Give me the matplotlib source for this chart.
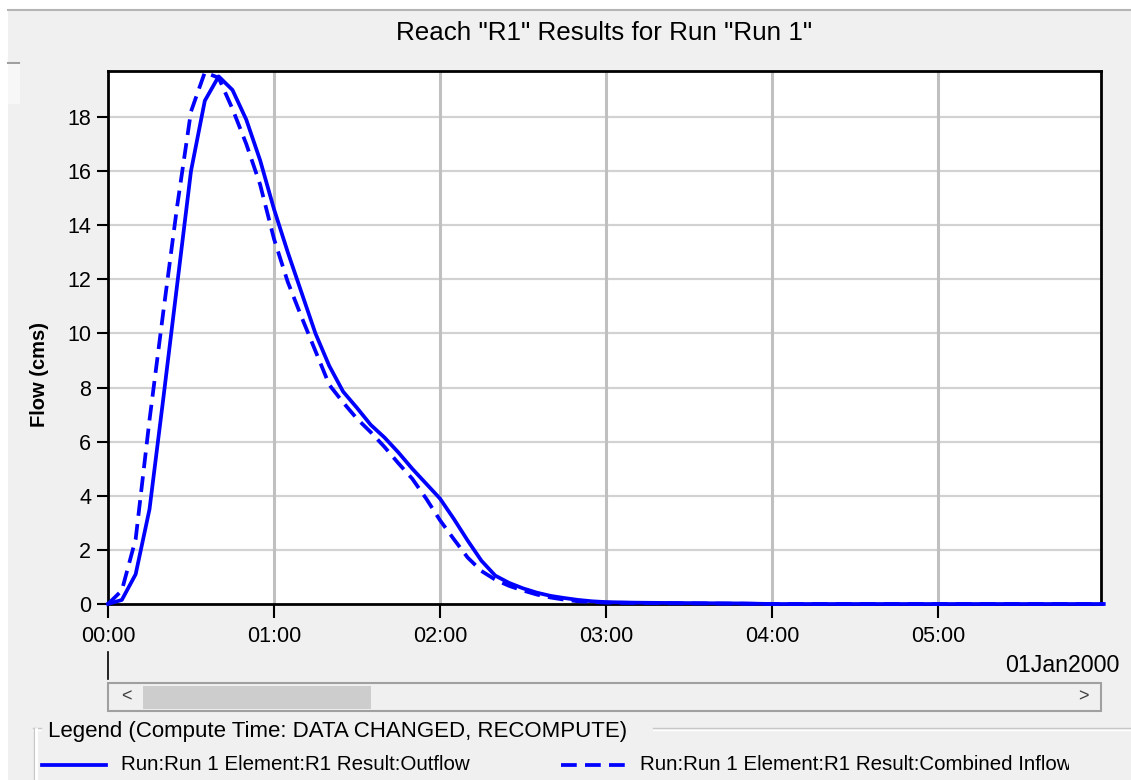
import matplotlib
matplotlib.use('Agg')
import matplotlib.pyplot as plt
from matplotlib.patches import Rectangle
from matplotlib.lines import Line2D

plt.rcParams['font.family'] = ['Liberation Sans', 'DejaVu Sans']

# tijd in minuten vanaf 01Jan2000 00:00
minuten = [0, 5, 10, 15, 20, 25, 30, 35, 40, 45, 50, 55, 60, 65, 70, 75, 80, 85, 90, 95,
           100, 105, 110, 115, 120, 125, 130, 135, 140, 145, 150, 155, 160, 165, 170, 175,
           180, 190, 200, 215, 230, 240, 360]
outflow = [0, 0.15, 1.1, 3.5, 7.6, 11.8, 16.0, 18.6, 19.5, 19.0, 17.9, 16.4, 14.6, 13.0,
           11.5, 10.0, 8.8, 7.85, 7.25, 6.62, 6.15, 5.6, 5.0, 4.45, 3.9, 3.15, 2.35, 1.6,
           1.05, 0.78, 0.58, 0.42, 0.3, 0.22, 0.15, 0.1, 0.07, 0.05, 0.04, 0.03, 0.02, 0, 0]
inflow = [0, 0.5, 2.4, 6.8, 10.8, 14.7, 18.2, 19.65, 19.45, 18.3, 17.0, 15.5, 13.5, 11.9,
          10.6, 9.35, 8.1, 7.45, 6.85, 6.35, 5.8, 5.2, 4.63, 3.9, 3.1, 2.4, 1.72, 1.22,
          0.9, 0.67, 0.5, 0.35, 0.24, 0.16, 0.1, 0.08, 0.05, 0.04, 0.03, 0.02, 0.01, 0, 0]

uurTicks = [0, 60, 120, 180, 240, 300]
uurLabels = ['00:00', '01:00', '02:00', '03:00', '04:00', '05:00']
flowTicks = [0, 2, 4, 6, 8, 10, 12, 14, 16, 18]

titel = 'Reach "R1" Results for Run "Run 1"'
legendTitel = 'Legend (Compute Time: DATA CHANGED, RECOMPUTE)'
labelOut = 'Run:Run 1 Element:R1 Result:Outflow'
labelIn = 'Run:Run 1 Element:R1 Result:Combined Inflow'

W, H = 1131, 780
def fx(px):
  return px / W
def fy(py):
  return 1 - py / H

blauw = '#0000ff'
streep = (4.2, 2.2)

fig = plt.figure(figsize=(W / 100, H / 100), dpi=100, facecolor='white')

# grijs paneel
fig.patches.append(Rectangle((fx(8), 0), 1 - fx(8), fy(10), transform=fig.transFigure,
                             facecolor='#f0f0f0', edgecolor='none', zorder=-2))
fig.lines.append(Line2D([fx(8), 1], [fy(10), fy(10)], transform=fig.transFigure,
                        color='#b4b4b4', lw=1.5, zorder=-1))
fig.patches.append(Rectangle((fx(8), fy(104)), fx(12), fy(64) - fy(104), transform=fig.transFigure,
                             facecolor='#f7f7f7', edgecolor='none', zorder=-1))
fig.lines.append(Line2D([fx(8), fx(19)], [fy(63), fy(63)], transform=fig.transFigure,
                        color='#a0a0a0', lw=1.5, zorder=-1))

fig.text(fx(604), fy(33), titel, ha='center', va='center', fontsize=18.7)

ax = fig.add_axes([fx(108), fy(604), fx(1101) - fx(108), fy(71) - fy(604)])
ax.set_zorder(2)
ax.set_facecolor('white')
ax.plot(minuten, outflow, color=blauw, lw=2.7, clip_on=False, zorder=5)
ax.plot(minuten, inflow, color=blauw, lw=2.7, dashes=streep, clip_on=False, zorder=5)
ax.set_xlim(0, 359)
ax.set_ylim(0, 19.7)
ax.set_xticks(uurTicks)
ax.set_xticklabels(uurLabels)
ax.set_yticks(flowTicks)
ax.tick_params(axis='both', direction='out', length=8, width=1.5, labelsize=15.5, pad=4)
ax.tick_params(axis='x', length=10, pad=6)
ax.tick_params(top=False, right=False)
for y in flowTicks[1:]:
  ax.axhline(y, color='#d2d2d2', lw=1.6, zorder=1)
for x in uurTicks[1:]:
  ax.axvline(x, color='#c0c0c0', lw=2.2, zorder=1)
for s in ax.spines.values():
  s.set_linewidth(2)
  s.set_zorder(4)
ax.set_ylabel('Flow (cms)', fontsize=14.5, fontweight='bold')
ax.yaxis.set_label_coords(-0.0594, 0.4315)

# tijdas-onderschrift en schuifbalk
fig.lines.append(Line2D([fx(108), fx(108)], [fy(652), fy(679)], transform=fig.transFigure,
                        color='black', lw=1.2))
fig.text(fx(1119), fy(665), '01Jan2000', ha='right', va='center', fontsize=16.7)
fig.patches.append(Rectangle((fx(108), fy(711)), fx(1101) - fx(108), fy(683) - fy(711),
                             transform=fig.transFigure, facecolor='#f0f0f0',
                             edgecolor='#a0a0a0', lw=1.5))
fig.patches.append(Rectangle((fx(143), fy(709)), fx(371) - fx(143), fy(686) - fy(709),
                             transform=fig.transFigure, facecolor='#cdcdcd', edgecolor='none'))
fig.text(fx(126), fy(697), '<', ha='center', va='center', fontsize=13, color='#404040')
fig.text(fx(1083), fy(697), '>', ha='center', va='center', fontsize=13, color='#404040')

# legenda
for xs in ([fx(33), fx(41)], [fx(653), 1]):
  fig.lines.append(Line2D(xs, [fy(728), fy(728)], transform=fig.transFigure, color='#c8c8c8', lw=1))
  fig.lines.append(Line2D(xs, [fy(729.5), fy(729.5)], transform=fig.transFigure, color='white', lw=1))
fig.lines.append(Line2D([fx(34), fx(34)], [fy(728), 0], transform=fig.transFigure, color='#c8c8c8', lw=1))
fig.lines.append(Line2D([fx(35.5), fx(35.5)], [fy(729), 0], transform=fig.transFigure, color='white', lw=2))
fig.text(fx(48), fy(732), legendTitel, ha='left', va='center', fontsize=16)

fig.lines.append(Line2D([fx(42), fx(106)], [fy(765), fy(765)], transform=fig.transFigure,
                        color=blauw, lw=2.7))
fig.text(fx(121), fy(765), labelOut, ha='left', va='center', fontsize=14.8)
fig.lines.append(Line2D([fx(561), fx(625)], [fy(765), fy(765)], transform=fig.transFigure,
                        color=blauw, lw=2.7, dashes=streep))
tIn = fig.text(fx(640), fy(765), labelIn, ha='left', va='center', fontsize=14.8)
knip = Rectangle((fx(600), 0), fx(1069) - fx(600), 1, transform=fig.transFigure)
tIn.set_clip_path(knip)
tIn.set_clip_on(True)

fig.savefig('out.png', dpi=100, facecolor=fig.get_facecolor())
plt.close(fig)
